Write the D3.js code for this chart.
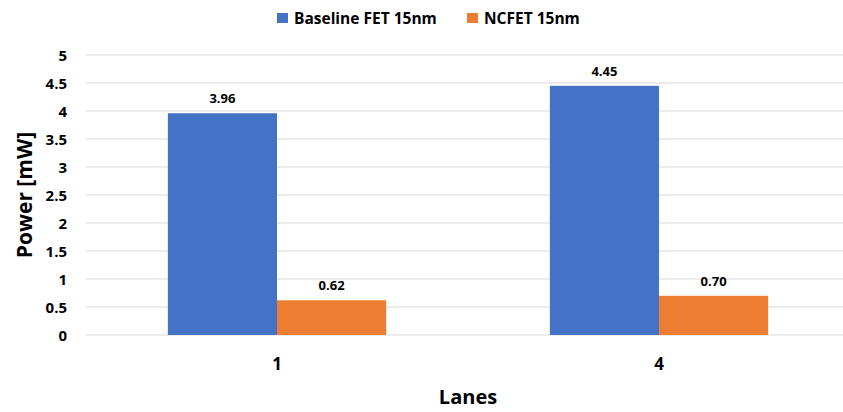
<!DOCTYPE html>
<html>
<head>
<meta charset="utf-8">
<script src="https://cdn.jsdelivr.net/npm/d3@7"></script>
<style>
  html, body { margin: 0; padding: 0; background: #fff; }
  svg text { font-family: "Open Sans", Lato, sans-serif; font-weight: bold; fill: #000; }
</style>
</head>
<body>
<svg id="chart" width="843" height="412"></svg>
<script>
// Power per lane count for the two device types
const lanes = ["1", "4"];
const seriesNames = ["Baseline FET 15nm", "NCFET 15nm"];
const baselineValues = [3.96, 4.45];
const ncfetValues = [0.62, 0.70];
const yTicks = [0, 0.5, 1, 1.5, 2, 2.5, 3, 3.5, 4, 4.5, 5];
const colors = ["#4472C4", "#ED7D31"];

const seriesValues = [baselineValues, ncfetValues];
const svg = d3.select("#chart");

const plot = { left: 86, right: 850, top: 55, bottom: 335 };

const x = d3.scaleBand().domain(lanes).range([plot.left, plot.right]).paddingInner(0).paddingOuter(0);
const y = d3.scaleLinear().domain([0, 5]).range([plot.bottom, plot.top]);

// Bars take 2 / 3.5 of each category band (150% gap between groups)
const barW = x.bandwidth() / 3.5;

// Gridlines
svg.append("g").selectAll("line").data(yTicks).join("line")
  .attr("x1", plot.left).attr("x2", 843)
  .attr("y1", d => y(d)).attr("y2", d => y(d))
  .attr("stroke", "#d9d9d9").attr("stroke-width", 1);

// Y axis labels
const yAxis = d3.axisLeft(y).tickValues(yTicks).tickSize(0).tickPadding(0)
  .tickFormat(d => String(d));
const yg = svg.append("g").attr("transform", `translate(${plot.left - 19},0)`).call(yAxis);
yg.select(".domain").remove();
yg.selectAll("text").attr("font-size", 15).attr("dy", "0.35em");

// X axis labels
const xAxis = d3.axisBottom(x).tickSize(0).tickPadding(0);
const xg = svg.append("g").attr("transform", `translate(0,${plot.bottom + 23})`).call(xAxis);
xg.select(".domain").remove();
xg.selectAll("text").attr("font-size", 17).attr("dy", "0.71em");

// Bars
const groups = svg.append("g").selectAll("g").data(seriesValues).join("g")
  .attr("fill", (d, i) => colors[i]);
groups.each(function(vals, si) {
  d3.select(this).selectAll("rect").data(vals).join("rect")
    .attr("x", (d, i) => x(lanes[i]) + x.bandwidth() / 2 - barW + si * barW)
    .attr("y", d => y(d))
    .attr("width", barW)
    .attr("height", d => y(0) - y(d));
});

// Value labels
seriesValues.forEach((vals, si) => {
  svg.append("g").selectAll("text").data(vals).join("text")
    .attr("x", (d, i) => x(lanes[i]) + x.bandwidth() / 2 - barW + si * barW + barW / 2)
    .attr("y", d => y(d) - 10)
    .attr("text-anchor", "middle")
    .attr("font-size", 13)
    .text(d => d.toFixed(2));
});

// Axis titles
svg.append("text")
  .attr("x", x(lanes[0]) + x.bandwidth()).attr("y", 404)
  .attr("text-anchor", "middle").attr("font-size", 20)
  .text("Lanes");
svg.append("text")
  .attr("transform", `translate(32,${(plot.top + plot.bottom) / 2}) rotate(-90)`)
  .attr("text-anchor", "middle").attr("font-size", 21)
  .text("Power [mW]");

// Legend
const legendItems = [{ name: seriesNames[0], x: 277 }, { name: seriesNames[1], x: 467 }];
const lg = svg.append("g").selectAll("g").data(legendItems).join("g")
  .attr("transform", d => `translate(${d.x},13)`);
lg.append("rect").attr("width", 11).attr("height", 10).attr("fill", (d, i) => colors[i]);
lg.append("text").attr("x", 17).attr("y", 5).attr("dy", "0.36em")
  .attr("font-size", 15.5).text(d => d.name);
</script>
</body>
</html>
